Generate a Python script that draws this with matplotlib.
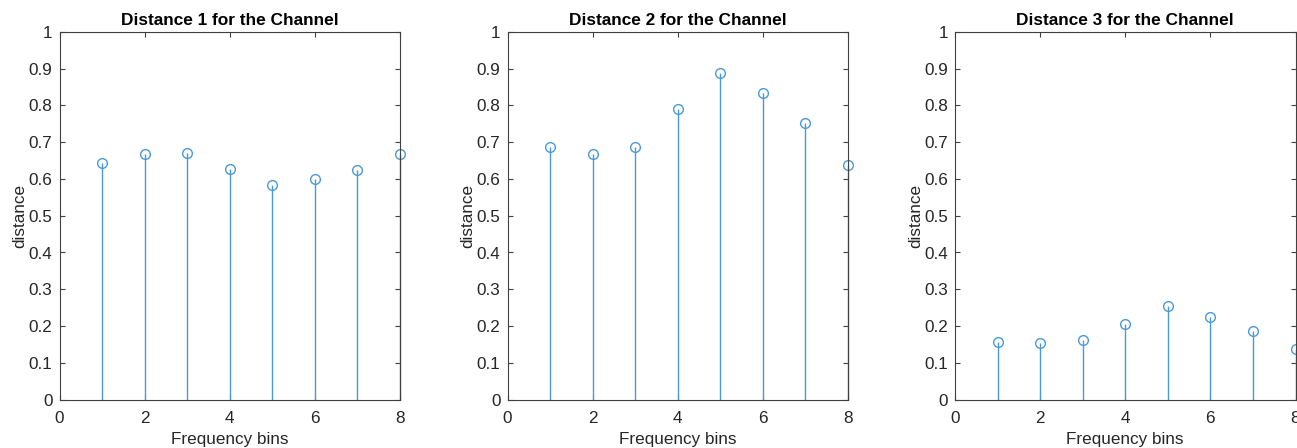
import matplotlib.pyplot as plt

bins = [1, 2, 3, 4, 5, 6, 7, 8]
distance_1 = [0.644, 0.667, 0.670, 0.628, 0.583, 0.599, 0.624, 0.668]
distance_2 = [0.688, 0.668, 0.688, 0.789, 0.889, 0.834, 0.751, 0.639]
distance_3 = [0.157, 0.153, 0.162, 0.207, 0.255, 0.226, 0.186, 0.138]
titles = ["Distance 1 for the Channel", "Distance 2 for the Channel", "Distance 3 for the Channel"]
yticks = [0, 0.1, 0.2, 0.3, 0.4, 0.5, 0.6, 0.7, 0.8, 0.9, 1]
ytick_labels = ["0", "0.1", "0.2", "0.3", "0.4", "0.5", "0.6", "0.7", "0.8", "0.9", "1"]
xticks = [0, 2, 4, 6, 8]

plt.rcParams['font.family'] = ['Liberation Sans', 'DejaVu Sans']

W, H = 1297, 448
fig = plt.figure(figsize=(W / 100, H / 100), dpi=100)

stem_color = "#4a9ad6"
axis_color = "#404040"
lefts = [59.5, 507.5, 955.0]
right_w = 340.5
top, bottom = 31.7, 399.7

for left, vals, title in zip(lefts, [distance_1, distance_2, distance_3], titles):
    ax = fig.add_axes([left / W, 1 - bottom / H, right_w / W, (bottom - top) / H])
    ml, sl, bl = ax.stem(bins, vals, basefmt=" ")
    plt.setp(sl, color=stem_color, linewidth=1.0)
    plt.setp(ml, color=stem_color, marker="o", markerfacecolor="none",
             markersize=7, markeredgewidth=1.0, clip_on=False)
    sl.set_clip_on(False)
    ax.set_xlim(0, 8)
    ax.set_ylim(0, 1)
    ax.set_xticks(xticks)
    ax.set_yticks(yticks)
    ax.set_yticklabels(ytick_labels)
    ax.tick_params(direction="in", top=True, right=True, length=3.5, width=0.8,
                   colors=axis_color, labelsize=12.3, labelcolor="#262626")
    ax.tick_params(axis="x", pad=8)
    ax.tick_params(axis="y", pad=5)
    for sp in ax.spines.values():
        sp.set_color(axis_color)
        sp.set_linewidth(0.8)
    ax.set_title(title, fontsize=12.4, fontweight="bold", pad=5)
    ax.set_xlabel("Frequency bins", fontsize=12.3, color="#262626", labelpad=4.5)
    ax.set_ylabel("distance", fontsize=12.3, color="#262626", labelpad=1)

fig.savefig("out.png", dpi=100)
